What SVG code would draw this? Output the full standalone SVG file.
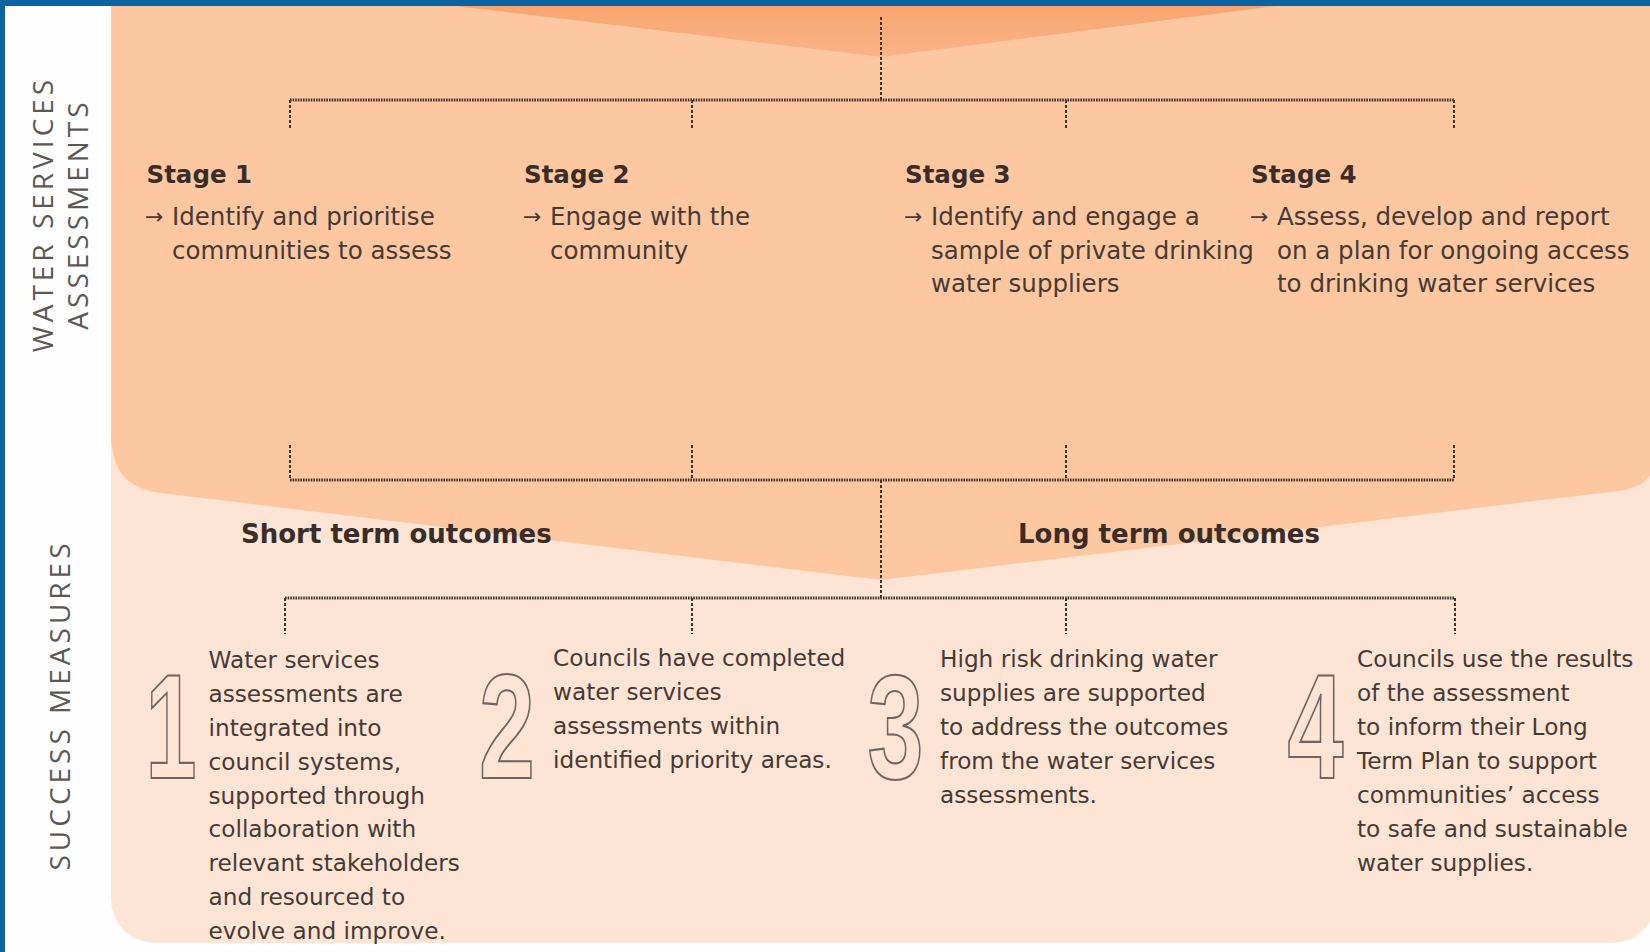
<svg xmlns="http://www.w3.org/2000/svg" width="1650" height="952" viewBox="0 0 1650 952">
  <defs>
    <linearGradient id="tipFill" x1="0" y1="0" x2="0" y2="1">
      <stop offset="0" stop-color="#F8A570"/>
      <stop offset="1" stop-color="#FAB487"/>
    </linearGradient>
    <style>
      .side { font-family: "Open Sans", "DejaVu Sans", sans-serif; font-size: 28px; fill: #5c5856; letter-spacing: 4px; text-anchor: middle; }
      .stage { font-family: "DejaVu Sans", "Open Sans", sans-serif; font-weight: bold; font-size: 24.5px; fill: #3a2d27; }
      .body { font-family: "DejaVu Sans", "Open Sans", sans-serif; font-size: 24.5px; fill: #463a34; }
      .arrow { font-family: "DejaVu Sans", sans-serif; font-size: 22px; fill: #463a34; }
      .head { font-family: "DejaVu Sans", "Open Sans", sans-serif; font-weight: bold; font-size: 26px; fill: #3a2d27; }
      .measure { font-family: "DejaVu Sans", "Open Sans", sans-serif; font-size: 23.2px; fill: #463a34; }
      .digit { font-family: "Liberation Sans", Arial, sans-serif; font-weight: bold; font-size: 148px; fill: none; stroke: #6f6560; stroke-width: 2.2px; text-anchor: middle; }
      .rail { fill: none; stroke: #43332a; stroke-width: 2.8; stroke-dasharray: 1.6 1; }
      .drop { fill: none; stroke: #43332a; stroke-width: 2; stroke-dasharray: 3 2; }
    </style>
  </defs>

  <!-- page background -->
  <rect x="0" y="0" width="1650" height="952" fill="#FEFEFE"/>

  <!-- lower band: success measures -->
  <rect id="measures-band" x="111" y="300" width="1545" height="643" rx="44" fill="#FDE4D4"/>

  <!-- upper band: assessments chevron -->
  <path id="assessment-band" d="M111,6 L1656,6 L1656,455 C1656,478 1640,488 1618,491 L881,580 L160,493 C125,488 111,470 111,430 Z" fill="#FDC8A1"/>

  <!-- tip of the chevron above -->
  <path d="M455,6 L1275,6 L881,57 Z" fill="url(#tipFill)"/>

  <!-- blue frame -->
  <rect x="0" y="0" width="1650" height="6" fill="#0A64A4"/>
  <rect x="0" y="0" width="5" height="952" fill="#0A64A4"/>

  <!-- section labels -->
  <g id="label-assessments">
    <text class="side" transform="translate(53,214) rotate(-90)">WATER SERVICES</text>
    <text class="side" transform="translate(88,214) rotate(-90)">ASSESSMENTS</text>
  </g>
  <g id="label-measures">
    <text class="side" transform="translate(70,705) rotate(-90)">SUCCESS MEASURES</text>
  </g>

  <!-- connectors -->
  <g id="connectors">
    <!-- top feed -->
    <line class="drop" x1="881" y1="17" x2="881" y2="100"/>
    <line class="rail" x1="290" y1="100" x2="1454" y2="100"/>
    <line class="drop" x1="290" y1="100" x2="290" y2="130"/>
    <line class="drop" x1="692" y1="100" x2="692" y2="130"/>
    <line class="drop" x1="1066" y1="100" x2="1066" y2="130"/>
    <line class="drop" x1="1454" y1="100" x2="1454" y2="130"/>
    <!-- gather under stages -->
    <line class="drop" x1="290" y1="445" x2="290" y2="480"/>
    <line class="drop" x1="692" y1="445" x2="692" y2="480"/>
    <line class="drop" x1="1066" y1="445" x2="1066" y2="480"/>
    <line class="drop" x1="1454" y1="445" x2="1454" y2="480"/>
    <line class="rail" x1="290" y1="480" x2="1454" y2="480"/>
    <line class="drop" x1="881" y1="480" x2="881" y2="598"/>
    <!-- split to measures -->
    <line class="rail" x1="285" y1="598" x2="1455" y2="598"/>
    <line class="drop" x1="285" y1="598" x2="285" y2="634"/>
    <line class="drop" x1="692" y1="598" x2="692" y2="634"/>
    <line class="drop" x1="1066" y1="598" x2="1066" y2="634"/>
    <line class="drop" x1="1455" y1="598" x2="1455" y2="634"/>
  </g>

  <!-- stages -->
  <g id="stage-1">
    <text class="stage" x="146.5" y="183">Stage 1</text>
    <text class="arrow" x="145" y="224">→</text>
    <text class="body" x="172" y="225">Identify and prioritise</text>
    <text class="body" x="172" y="258.5">communities to assess</text>
  </g>
  <g id="stage-2">
    <text class="stage" x="524" y="183">Stage 2</text>
    <text class="arrow" x="523" y="224">→</text>
    <text class="body" x="550" y="225">Engage with the</text>
    <text class="body" x="550" y="258.5">community</text>
  </g>
  <g id="stage-3">
    <text class="stage" x="905" y="183">Stage 3</text>
    <text class="arrow" x="904" y="224">→</text>
    <text class="body" x="931" y="225">Identify and engage a</text>
    <text class="body" x="931" y="258.5">sample of private drinking</text>
    <text class="body" x="931" y="292">water suppliers</text>
  </g>
  <g id="stage-4">
    <text class="stage" x="1251" y="183">Stage 4</text>
    <text class="arrow" x="1250" y="224">→</text>
    <text class="body" x="1277" y="225">Assess, develop and report</text>
    <text class="body" x="1277" y="258.5">on a plan for ongoing access</text>
    <text class="body" x="1277" y="292">to drinking water services</text>
  </g>

  <!-- outcome headings -->
  <g id="short-term">
    <text class="head" x="241" y="543">Short term outcomes</text>
  </g>
  <g id="long-term">
    <text class="head" x="1018" y="543">Long term outcomes</text>
  </g>

  <!-- success measures -->
  <g id="measure-1">
    <text class="digit" transform="translate(171,778) scale(0.62,1)">1</text>
    <text class="measure" x="208.5" y="668">Water services</text>
    <text class="measure" x="208.5" y="702">assessments are</text>
    <text class="measure" x="208.5" y="736">integrated into</text>
    <text class="measure" x="208.5" y="770">council systems,</text>
    <text class="measure" x="208.5" y="803.5">supported through</text>
    <text class="measure" x="208.5" y="837">collaboration with</text>
    <text class="measure" x="208.5" y="871">relevant stakeholders</text>
    <text class="measure" x="208.5" y="905">and resourced to</text>
    <text class="measure" x="208.5" y="938.5">evolve and improve.</text>
  </g>
  <g id="measure-2">
    <text class="digit" transform="translate(507,778) scale(0.68,1)">2</text>
    <text class="measure" x="553" y="666">Councils have completed</text>
    <text class="measure" x="553" y="700">water services</text>
    <text class="measure" x="553" y="734">assessments within</text>
    <text class="measure" x="553" y="768">identified priority areas.</text>
  </g>
  <g id="measure-3">
    <text class="digit" transform="translate(895.5,778) scale(0.68,1)">3</text>
    <text class="measure" x="940" y="666.5">High risk drinking water</text>
    <text class="measure" x="940" y="700.5">supplies are supported</text>
    <text class="measure" x="940" y="734.5">to address the outcomes</text>
    <text class="measure" x="940" y="768.5">from the water services</text>
    <text class="measure" x="940" y="802.5">assessments.</text>
  </g>
  <g id="measure-4">
    <text class="digit" transform="translate(1315.5,778) scale(0.68,1)">4</text>
    <text class="measure" x="1357" y="666.5">Councils use the results</text>
    <text class="measure" x="1357" y="700.5">of the assessment</text>
    <text class="measure" x="1357" y="734.5">to inform their Long</text>
    <text class="measure" x="1357" y="768.5">Term Plan to support</text>
    <text class="measure" x="1357" y="802.5">communities’ access</text>
    <text class="measure" x="1357" y="836.5">to safe and sustainable</text>
    <text class="measure" x="1357" y="870.5">water supplies.</text>
  </g>
</svg>
